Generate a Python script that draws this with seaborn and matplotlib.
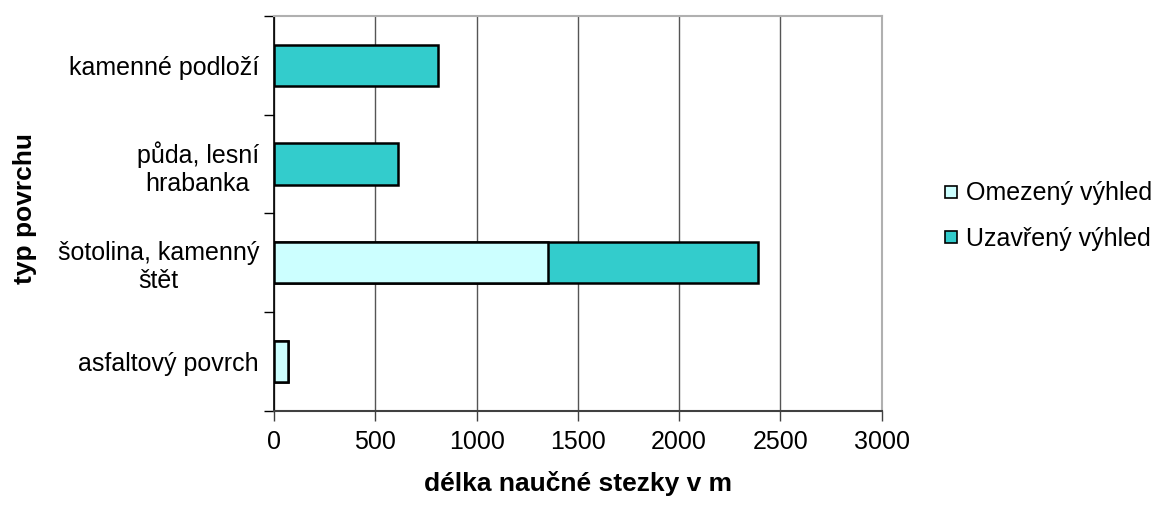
import matplotlib
matplotlib.use("Agg")
import matplotlib.pyplot as plt
from matplotlib.lines import Line2D
import seaborn as sns
import pandas as pd

# Surface types along the trail (top to bottom)
categories = ["kamenné podloží", "půda, lesní\nhrabanka", "šotolina, kamenný\nštět", "asfaltový povrch"]
omezeny = [0, 0, 1350, 70]      # Omezený výhled (m)
uzavreny = [810, 610, 1040, 0]  # Uzavřený výhled (m)
series_names = ["Omezený výhled", "Uzavřený výhled"]
x_ticks = [0, 500, 1000, 1500, 2000, 2500, 3000]

col_omezeny = "#CCFFFF"
col_uzavreny = "#33CCCC"

df = pd.DataFrame({
    "typ": categories,
    "omezeny": omezeny,
    "celkem": [a + b for a, b in zip(omezeny, uzavreny)],
})

sns.set_theme(style="white")
plt.rcParams["font.family"] = ["Liberation Sans", "DejaVu Sans"]
plt.rcParams.update({"text.color": "black", "axes.labelcolor": "black",
                     "xtick.color": "black", "ytick.color": "black"})

fig = plt.figure(figsize=(11.57, 5.07), dpi=100)
ax = fig.add_axes([0.237, 0.19, 0.525, 0.778])

# stacked bars: total length first, lower segment drawn over it
sns.barplot(data=df, y="typ", x="celkem", order=categories, color=col_uzavreny,
            width=0.42, edgecolor="black", linewidth=1.8, saturation=1, ax=ax)
sns.barplot(data=df[df["omezeny"] > 0], y="typ", x="omezeny", order=categories,
            color=col_omezeny, width=0.42, edgecolor="black", linewidth=1.8,
            saturation=1, ax=ax)

ax.set_xlim(0, 3000)
ax.set_ylim(3.5, -0.5)
ax.set_xticks(x_ticks)
ax.set_xticklabels([str(v) for v in x_ticks], fontsize=18)
ax.tick_params(axis="x", length=7, width=1, color="#404040", pad=7, bottom=True)

ax.set_yticks(range(len(categories)))
ax.set_yticklabels(categories, fontsize=18, ha="right", multialignment="center")
ax.set_yticks([i - 0.5 for i in range(len(categories) + 1)], minor=True)
ax.tick_params(axis="y", which="major", length=0, pad=11)
ax.tick_params(axis="y", which="minor", length=7, width=1, color="black", left=True)

ax.grid(axis="x", color="#555555", linewidth=1)
ax.set_axisbelow(True)

ax.spines["left"].set_color("black")
ax.spines["left"].set_linewidth(1.2)
ax.spines["bottom"].set_color("#404040")
ax.spines["bottom"].set_linewidth(1.5)
for s in ("top", "right"):
    ax.spines[s].set_color("#b0b0b0")
    ax.spines[s].set_linewidth(1.5)

ax.set_xlabel("délka naučné stezky v m", fontsize=19, fontweight="bold", labelpad=12)
ax.set_ylabel("typ povrchu", fontsize=19, fontweight="bold")
ax.yaxis.set_label_coords(-0.391, 0.513)

handles = [
    Line2D([], [], marker="s", linestyle="none", markersize=8,
           markerfacecolor=col_omezeny, markeredgecolor="black", markeredgewidth=1.2),
    Line2D([], [], marker="s", linestyle="none", markersize=8,
           markerfacecolor=col_uzavreny, markeredgecolor="black", markeredgewidth=1.2),
]
fig.legend(handles, series_names, loc="center left", bbox_to_anchor=(0.8168, 0.574),
           frameon=False, fontsize=18, handletextpad=0.4, handlelength=0.45,
           labelspacing=0.85, borderpad=0, borderaxespad=0)

fig.savefig("out.png", dpi=100)
